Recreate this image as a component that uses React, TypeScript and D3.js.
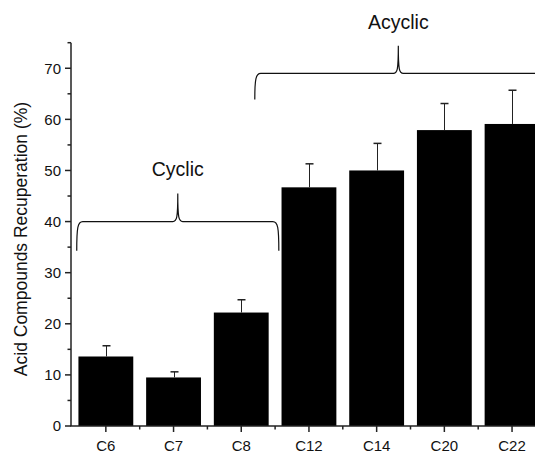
import React from 'react';
import * as d3 from 'd3';

// chart values
const categories = ['C6', 'C7', 'C8', 'C12', 'C14', 'C20', 'C22'];
const recuperation = [13.6, 9.5, 22.2, 46.7, 50.0, 57.9, 59.1];
const errorUp = [2.1, 1.1, 2.5, 4.6, 5.3, 5.2, 6.6];
const majorTicks = [0, 10, 20, 30, 40, 50, 60, 70];
const minorTicks = [5, 15, 25, 35, 45, 55, 65, 75];

// brace groups: span in category index units, heights in %
const groupLabels = ['Cyclic', 'Acyclic'];
const groupFrom = [-0.43, 2.2];
const groupTo = [2.555, 6.44];
const groupBase = [34.3, 63.9];
const groupLine = [40.0, 69.0];
const groupPeak = [45.5, 74.4];
const groupText = [48.9, 77.6];

const W = 535, H = 452;
const font = '"Liberation Sans", Arial, sans-serif';

function bracePath (x0, x1, yb, yl, yp) {
  const xm = (x0 + x1) / 2;
  return `M ${x0} ${yb}
          C ${x0} ${yl + 6} ${x0 + 1} ${yl} ${x0 + 6} ${yl}
          L ${xm - 5} ${yl}
          C ${xm - 1} ${yl} ${xm} ${yl - 3} ${xm} ${yp}
          C ${xm} ${yl - 3} ${xm + 1} ${yl} ${xm + 5} ${yl}
          L ${x1 - 6} ${yl}
          C ${x1 - 1} ${yl} ${x1} ${yl + 6} ${x1} ${yb}`;
}

const App = () => {
  const axisX = 71;
  const x = d3.scaleBand()
    .domain(categories)
    .range([72, 72 + 7 * 67.7])
    .paddingInner(0.19)
    .paddingOuter(0.095);
  const y = d3.scaleLinear().domain([0, 75]).range([426, 42.7]);
  const bw = x.bandwidth();
  const step = x.step();
  const xi = d3.scaleLinear()
    .domain([0, 1])
    .range([x(categories[0]) + bw / 2, x(categories[0]) + bw / 2 + step]);
  const base = y(0);

  return (
    <svg width={W} height={H} style={{position: 'absolute', left: 0, top: 0}}
      fontFamily={font}>
      <rect width={W} height={H} fill="white" />

      {/* bars */}
      {categories.map((c, i) => (
        <rect key={c} x={x(c)} y={y(recuperation[i])} width={bw}
          height={base - y(recuperation[i])} fill="black" />
      ))}

      {/* error bars (upper only) */}
      {categories.map((c, i) => {
        const cx = Math.round(x(c) + bw / 2) + 0.5;
        const top = y(recuperation[i] + errorUp[i]);
        return (
          <g key={c} stroke="#222" strokeWidth={1}>
            <line x1={cx} x2={cx} y1={y(recuperation[i])} y2={top} />
            <line x1={cx - 4} x2={cx + 4} y1={top} y2={top} strokeWidth={1.5} />
          </g>
        );
      })}

      {/* y axis */}
      <line x1={axisX} x2={axisX} y1={base} y2={y(75)} stroke="#222" strokeWidth={1.5} />
      {majorTicks.map(t => (
        <g key={t}>
          <line x1={axisX - 6} x2={axisX} y1={y(t)} y2={y(t)} stroke="#222" strokeWidth={1.5} />
          <text x={axisX - 10} y={y(t)} dy="0.36em" textAnchor="end" fontSize={15}
            fill="#111">{t}</text>
        </g>
      ))}
      {minorTicks.map(t => (
        <line key={t} x1={axisX - 3.5} x2={axisX} y1={y(t)} y2={y(t)} stroke="#222" strokeWidth={1.5} />
      ))}
      <text transform={`translate(27, 239) rotate(-90)`} textAnchor="middle"
        fontSize={17.5} fill="#111">Acid Compounds Recuperation (%)</text>

      {/* x axis */}
      <line x1={axisX - 0.75} x2={W} y1={base} y2={base} stroke="#222" strokeWidth={1.5} />
      {categories.map(c => {
        const cx = x(c) + bw / 2;
        return (
          <g key={c}>
            <line x1={cx} x2={cx} y1={base} y2={base + 6} stroke="#222" strokeWidth={1.5} />
            <line x1={x(c) + bw + (step - bw) / 2} x2={x(c) + bw + (step - bw) / 2}
              y1={base} y2={base + 3.5} stroke="#222" strokeWidth={1.5} />
            <text x={cx} y={450.5} textAnchor="middle" fontSize={15} fill="#111">{c}</text>
          </g>
        );
      })}

      {/* group braces */}
      {groupLabels.map((g, i) => (
        <g key={g}>
          <path d={bracePath(xi(groupFrom[i]), xi(groupTo[i]), y(groupBase[i]),
            y(groupLine[i]), y(groupPeak[i]))} fill="none" stroke="#111" strokeWidth={1.2} />
          <text x={(xi(groupFrom[i]) + xi(groupTo[i])) / 2} y={y(groupText[i])}
            textAnchor="middle" fontSize={19.5} fill="#111">{g}</text>
        </g>
      ))}
    </svg>
  );
};

export default App;
